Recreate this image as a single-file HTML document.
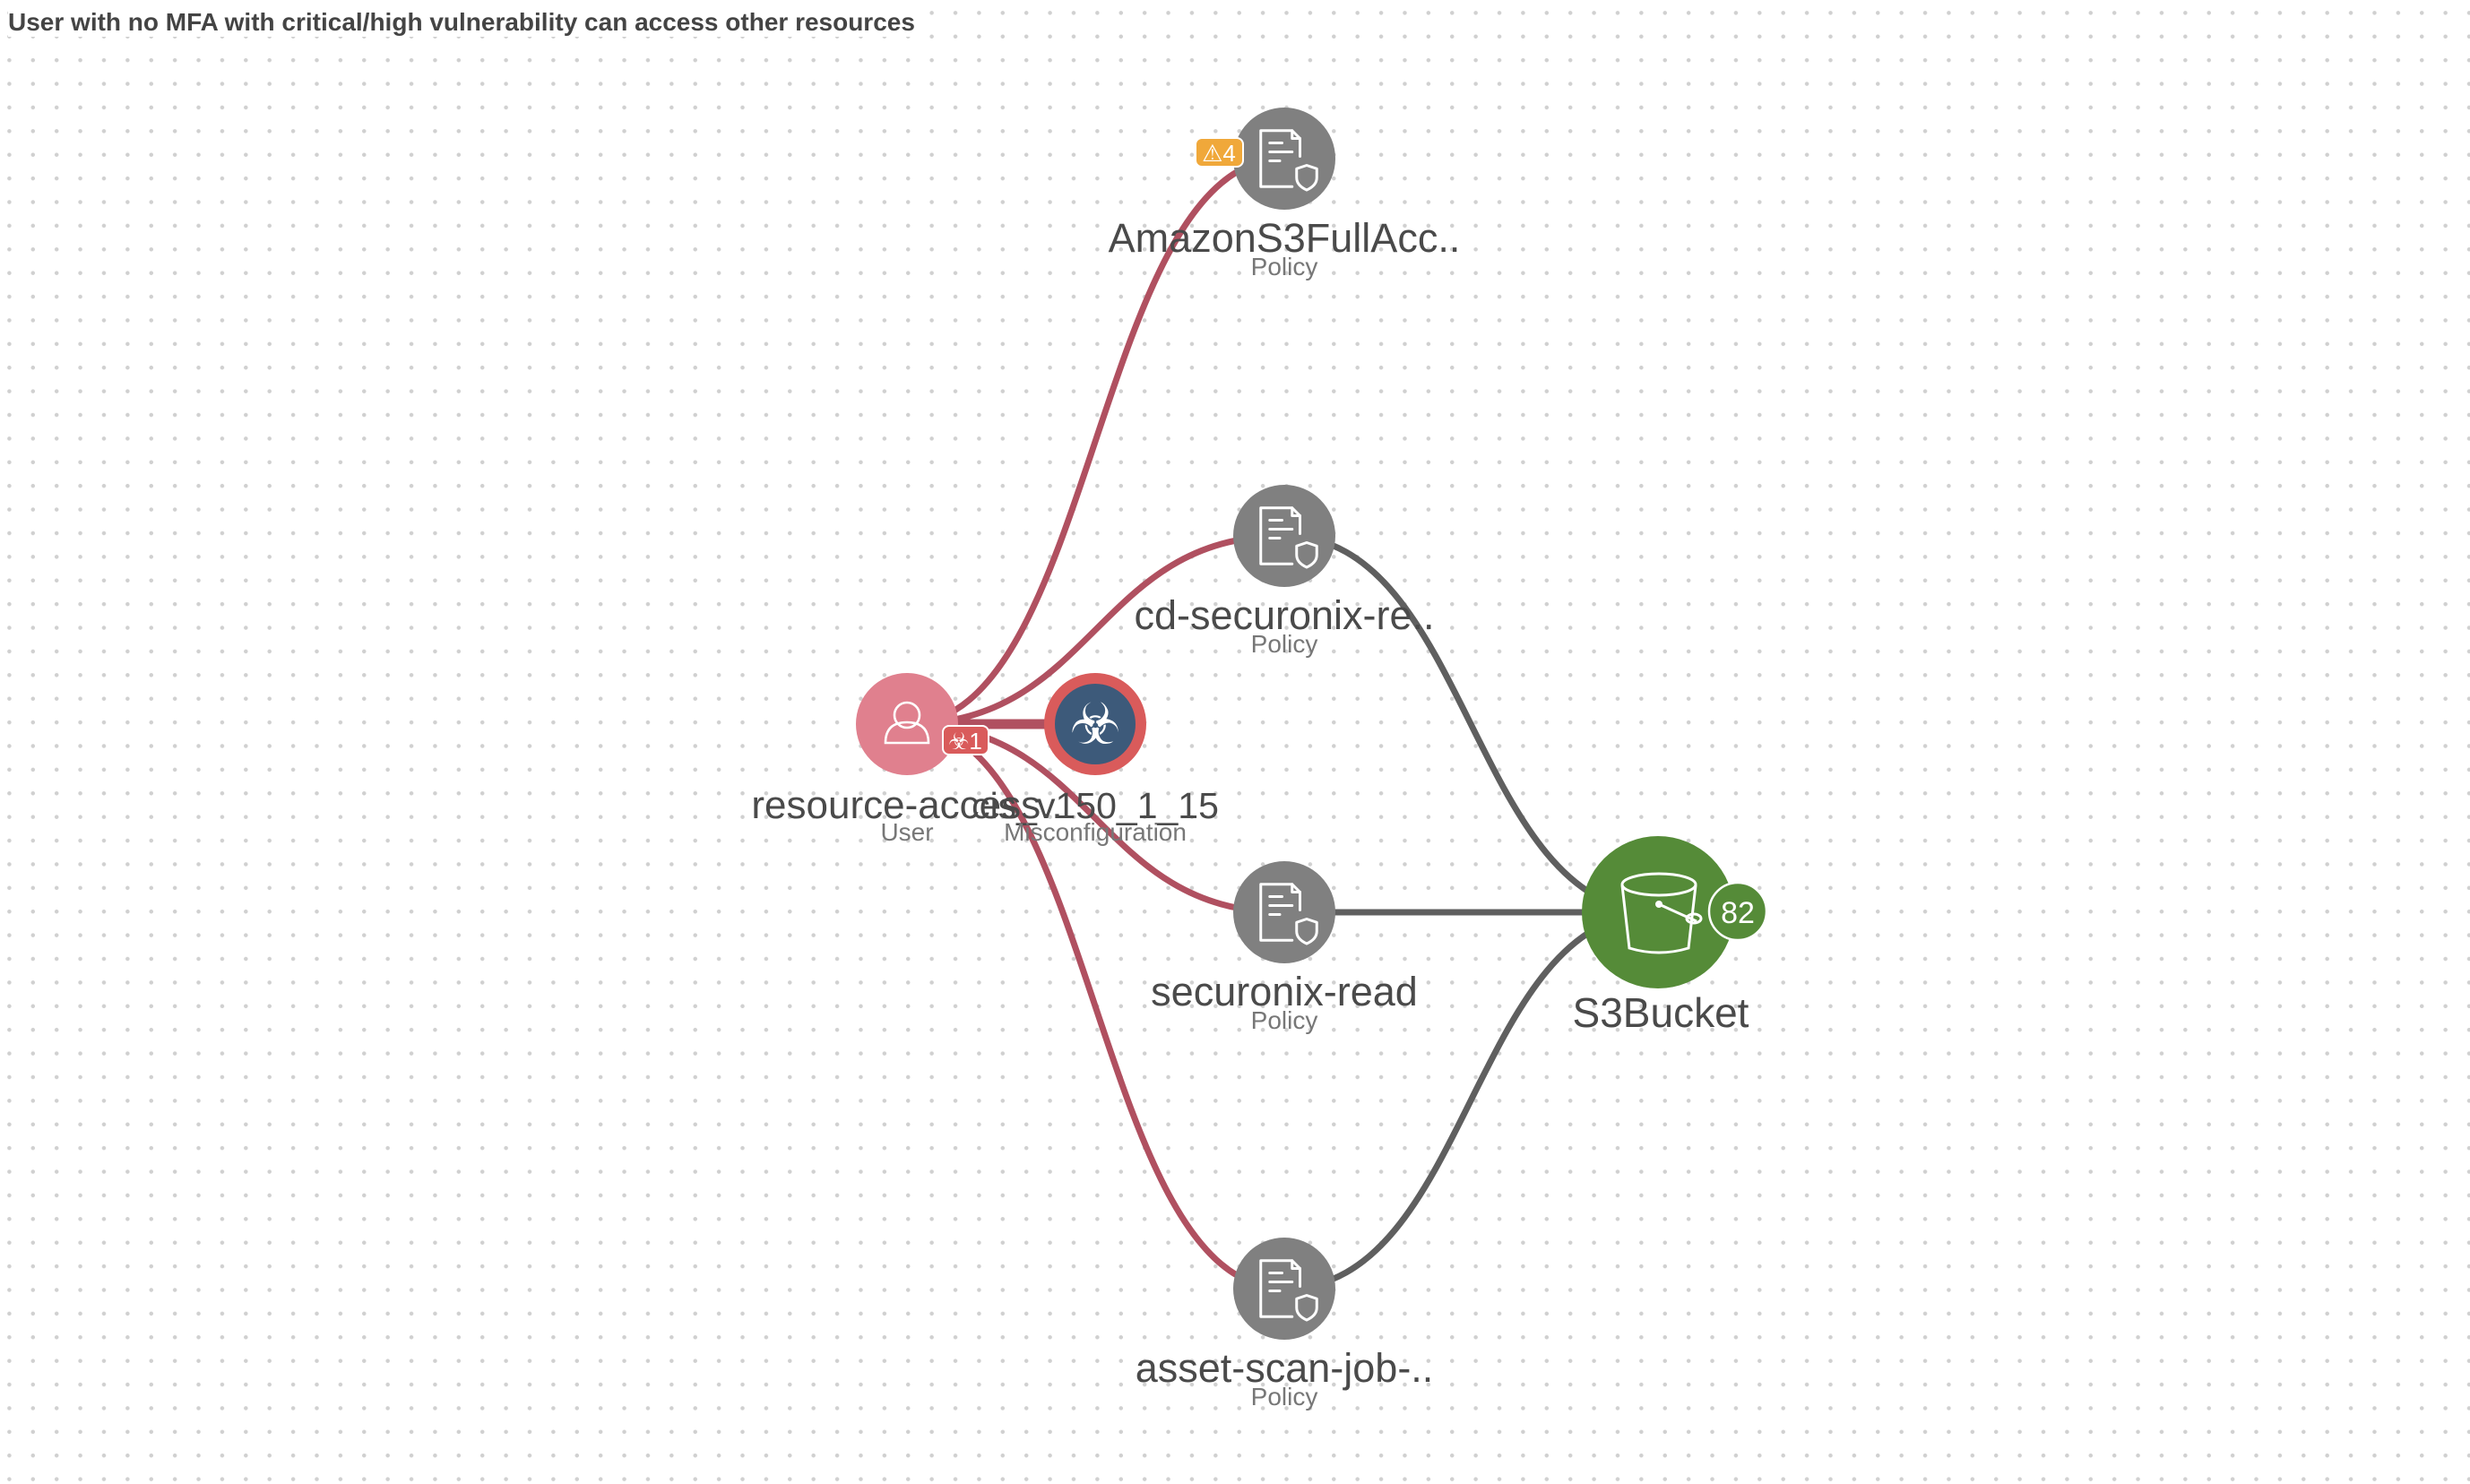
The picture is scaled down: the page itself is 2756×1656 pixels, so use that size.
<!DOCTYPE html>
<html><head><meta charset="utf-8"><style>
html,body{margin:0;padding:0;}
body{width:2756px;height:1656px;overflow:hidden;background:#fff;
background-image:radial-gradient(circle,#d0d0d0 2px,transparent 2.5px);
background-size:26.4px 26.4px;background-position:-2.8px 1.2px;
font-family:"Liberation Sans",sans-serif;}
.title{position:absolute;left:9px;top:9px;font-size:28px;font-weight:bold;color:#444;background:#fff;}
svg{position:absolute;left:0;top:0;}
</style></head><body>
<div class="title">User with no MFA with critical/high vulnerability can access other resources</div>
<svg width="2756" height="1656" viewBox="0 0 2756 1656" font-family="Liberation Sans, sans-serif">
<defs>
<g id="pol">
<circle r="57" fill="#808080"/>
<g fill="none" stroke="#fff" stroke-width="2.4" stroke-linecap="round" stroke-linejoin="round" transform="scale(1.25)">
<path d="M14,-2 V-18 L7,-25 H-21 V25 H7"/>
<path d="M7,-25 V-18 H14"/>
<path d="M-13,-14 H-2 M-13,-6 H7 M-13,2 H-4"/>
<path d="M20,6 L29,9 V17 Q29,24 20,28 Q11,24 11,17 V9 Z"/>
</g>
</g>
</defs>
<g fill="none" stroke="#5f5f5f" stroke-width="7">
<path d="M1433,598 C1641,598 1641,1018 1850,1018"/>
<path d="M1433,1018 L1850,1018"/>
<path d="M1433,1438 C1641,1438 1641,1018 1850,1018"/>
</g>
<g fill="none" stroke="#b05060" stroke-width="7">
<path d="M1012,808 C1222,808 1222,177 1433,177"/>
<path d="M1012,808 C1222,808 1222,598 1433,598"/>
<path d="M1012,808 C1222,808 1222,1018 1433,1018"/>
<path d="M1012,808 C1222,808 1222,1438 1433,1438"/>
<path d="M1012,808 L1222,808" stroke-width="11"/>
</g>
<use href="#pol" x="1433" y="177"/>
<use href="#pol" x="1433" y="598"/>
<use href="#pol" x="1433" y="1018"/>
<use href="#pol" x="1433" y="1438"/>
<rect x="1334" y="154" width="53" height="32" rx="7" fill="#f0a83a" stroke="#fff" stroke-width="2"/>
<text x="1360" y="180" font-size="26" fill="#fff" text-anchor="middle">⚠4</text>
<g text-anchor="middle">
<text x="1433" y="281" font-size="45" fill="#4a4a4a">AmazonS3FullAcc..</text>
<text x="1433" y="307" font-size="28" fill="#777">Policy</text>
<text x="1433" y="702" font-size="45" fill="#4a4a4a">cd-securonix-re..</text>
<text x="1433" y="728" font-size="28" fill="#777">Policy</text>
<text x="1433" y="1122" font-size="45" fill="#4a4a4a">securonix-read</text>
<text x="1433" y="1148" font-size="28" fill="#777">Policy</text>
<text x="1433" y="1542" font-size="45" fill="#4a4a4a">asset-scan-job-..</text>
<text x="1433" y="1568" font-size="28" fill="#777">Policy</text>
</g>
<circle cx="1012" cy="808" r="57" fill="#e0808e"/>
<g fill="none" stroke="#fff" stroke-width="2.6">
<circle cx="1012" cy="798" r="14"/>
<path d="M988,829 Q988,806 1012,806 Q1036,806 1036,829 Z"/>
</g>
<rect x="1052" y="810" width="51" height="32" rx="7" fill="#d95b5b" stroke="#fff" stroke-width="2"/>
<text x="1077" y="836" font-size="26" fill="#fff" text-anchor="middle">☣1</text>
<circle cx="1222" cy="808" r="51" fill="#3d5a7a" stroke="#d95b5b" stroke-width="12"/>
<text x="1222" y="830" font-size="64" fill="#fff" text-anchor="middle">☣</text>
<g text-anchor="middle">
<text x="1012" y="913" font-size="44" fill="#4a4a4a">resource-access..</text>
<text x="1012" y="938" font-size="28" fill="#777">User</text>
<text x="1222" y="913" font-size="41" fill="#4a4a4a">cis_v150_1_15</text>
<text x="1222" y="938" font-size="28" fill="#777">Misconfiguration</text>
</g>
<circle cx="1850" cy="1018" r="85" fill="#558b38"/>
<g fill="none" stroke="#fff" stroke-width="3">
<ellipse cx="1851" cy="987" rx="41" ry="12"/>
<path d="M1810,988 L1818,1058 Q1851,1068 1884,1058 L1892,988"/>
<path d="M1851,1009 Q1875,1020 1893,1028"/>
<ellipse cx="1890" cy="1025" rx="8" ry="5"/>
</g>
<circle cx="1851" cy="1009" r="4" fill="#fff"/>
<circle cx="1939" cy="1017" r="32" fill="#558b38" stroke="#fff" stroke-width="2.5"/>
<text x="1939" y="1030" font-size="34" fill="#fff" text-anchor="middle">82</text>
<text x="1853" y="1146" font-size="46" fill="#4a4a4a" text-anchor="middle">S3Bucket</text>
</svg>
</body></html>
